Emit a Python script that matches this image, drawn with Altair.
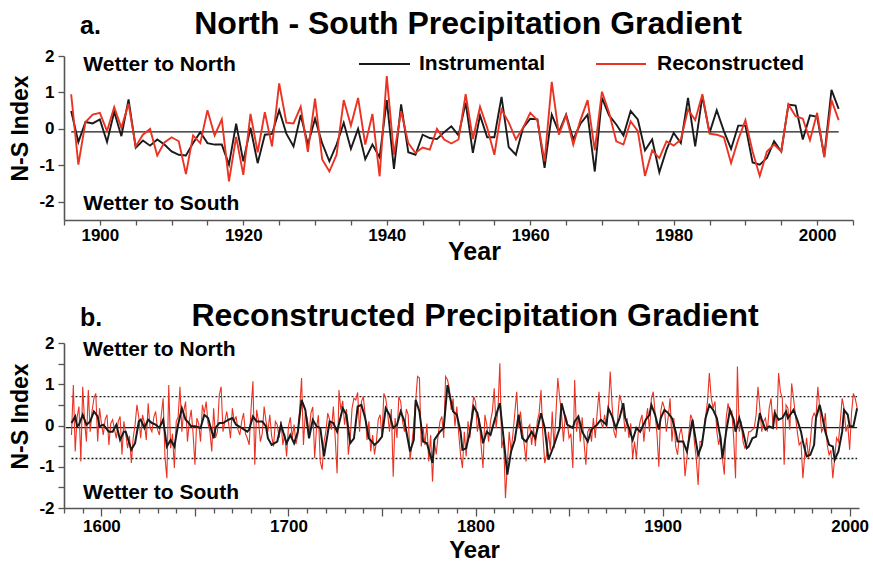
import altair as alt
import pandas as pd

# ---------------- Panel a data (1896-2003) ----------------
years_a = list(range(1896, 2004))
instrumental = [
    0.49, -0.36, 0.19, 0.15, 0.26, -0.36, 0.47, -0.20, 0.81, -0.52,   # 1896-1905
    -0.32, -0.46, -0.29, -0.43, -0.62, -0.71, -0.73, -0.39, -0.09, -0.39,  # 1906-1915
    -0.43, -0.43, -0.98, 0.14, -0.89, 0.03, -0.94, -0.16, -0.14, 0.51,  # 1916-1925
    -0.13, -0.48, 0.38, -0.43, 0.28, -0.40, -0.89, -0.43, 0.17, -0.55,  # 1926-1935
    0.00, -0.83, -0.43, -0.78, 0.79, -1.10, 0.67, -0.64, -0.71, -0.16,  # 1936-1945
    -0.25, -0.28, -0.09, 0.07, -0.18, 0.72, -0.66, 0.37, -0.23, -0.23,  # 1946-1955
    0.88, -0.50, -0.71, 0.03, 0.28, 0.26, -1.07, 0.39, -0.09, 0.39,    # 1956-1965
    -0.29, 0.14, 0.39, -1.17, 0.85, 0.37, 0.12, -0.18, 0.49, 0.26,     # 1966-1975
    -0.59, -0.29, -1.19, -0.57, -0.11, -0.39, 0.85, -0.48, 0.90, -0.11,  # 1976-1985
    0.51, -0.06, -0.55, 0.09, 0.09, -0.92, -0.98, -0.80, -0.34, -0.62,  # 1986-1995
    0.67, 0.64, -0.29, 0.37, 0.33, -0.75, 1.07, 0.55,                  # 1996-2003
]
reconstructed_a = [
    0.95, -0.98, 0.19, 0.39, 0.44, -0.06, 0.60, 0.03, 0.69, -0.48,
    -0.16, 0.00, -0.73, -0.37, -0.23, -0.34, -1.24, -0.18, -0.39, 0.51,
    -0.18, 0.26, -1.44, -0.22, -1.26, 0.41, -0.64, 0.46, -0.48, 1.25,
    0.17, 0.15, 0.61, -0.63, 0.83, -0.84, -1.17, -0.71, 0.79, 0.09,
    0.85, -0.43, 0.41, -1.30, 1.45, -0.71, 0.49, -0.39, -0.66, -0.51,
    -0.57, 0.00, -0.29, -0.40, -0.29, 0.95, -0.28, 0.61, 0.03, -0.71,
    0.53, 0.18, -0.29, 0.03, 0.44, 0.24, -0.89, 1.29, -0.16, 0.37,
    -0.43, 0.24, 0.79, -0.59, 1.02, 0.44, -0.34, -0.43, 0.21, -0.06,
    -1.29, -0.59, -0.80, -0.34, -0.46, -0.29, 0.53, 0.24, 0.95, -0.13,
    -0.16, -0.23, -0.94, -0.29, 0.24, -0.62, -1.29, -0.62, -0.43, -0.62,
    0.67, 0.35, 0.28, -0.31, 0.44, -0.78, 0.79, 0.24,
]
mean_a = -0.08

# ---------------- Panel b data ----------------
start_b = 1584
reconstructed_b = [
    -0.23, 0.98, -0.63, 0.20, 0.46, -0.87,                              # 1584-1589
    0.94, 0.10, -0.39, 0.86, -0.15, 0.35, 0.66, 0.78, -0.39, 0.42,
    0.05, -0.23, 0.15, 0.26, -0.47, 0.05, 0.14, -0.10, -0.31, 0.10,
    0.22, -0.71, 0.10, -0.20, -0.55, -0.25, -0.91, -0.30, 0.02, 0.50,
    0.20, -0.31, 0.26, 0.05, -0.35, 0.54, -0.05, -0.15, 0.20, 0.34,
    -0.10, -0.23, 0.25, 0.66, -0.79, -1.28, 0.98, -0.55, -0.20, -1.03,
    0.10, 0.20, 0.94, -0.15, 0.35, 0.58, -0.39, 0.10, 0.38, -0.20,
    -0.95, 0.18, 0.05, -0.39, 0.50, 0.30, 0.58, 0.05, -0.15, -0.63,
    0.42, -0.30, -0.15, 0.74, 0.94, -0.15, 0.10, 0.34, 0.05, -0.31,
    0.42, 0.10, 0.22, -0.10, -0.23, 0.10, 0.30, -0.20, -0.31, -0.47,
    0.40, 1.07, -0.95, 0.38, 0.10, -0.39, -0.19, 0.46, 0.10, -0.15,     # 1680s
    0.26, -0.25, -0.51, 0.10, 0.02, -0.30, 0.10, -0.47, -0.20, -0.75,
    -0.02, 0.20, -0.31, 0.02, -0.45, -0.23, 0.40, 1.15, -0.47, 0.30,
    0.18, -0.19, 0.30, 0.45, -0.79, -0.06, 0.25, -0.87, -1.07, -0.40,
    -0.15, 0.30, 0.14, -0.10, 0.46, -0.31, -1.16, 0.86, 0.38, 0.60,
    0.02, 0.40, -0.71, -0.30, 0.42, 0.66, 0.62, 0.80, -0.15, 0.58,
    0.70, 0.26, -0.35, 0.10, -0.63, -0.23, -0.70, -0.39, 0.15, 0.26,
    -0.27, 0.78, 0.66, 0.30, -0.15, 0.40, -1.24, 0.18, -0.30, 0.70,
    0.58, 0.10, -0.15, 0.40, 0.26, -0.83, -0.45, 0.02, 0.60, 1.19,
    1.15, -0.51, -0.06, -0.47, 0.05, -0.87, -0.23, -1.36, -0.39, -0.70,
    -0.23, 0.10, 0.22, -0.30, 1.19, 1.11, 0.90, 0.38, 0.66, -0.02,     # 1780s
    0.46, -0.20, -0.71, -1.03, -0.15, -0.75, 0.10, -0.30, 0.30, 0.70,
    0.58, -0.15, 0.18, -0.50, -1.03, 0.26, 0.02, -0.39, 0.10, 0.34,
    0.90, -0.06, 0.40, 1.51, -0.55, -0.30, -1.76, -0.95, -0.15, -0.63,
    -0.20, 0.30, 0.82, -0.06, 0.34, -0.10, -0.45, -0.87, -0.06, 0.02,
    -0.47, -0.06, -0.50, 0.10, 0.30, 0.86, -0.23, -0.91, -0.71, -0.15,
    -0.60, 0.34, -0.55, 0.30, 1.15, 0.66, 0.30, -0.39, 0.26, 0.10,
    -0.30, -0.20, -1.03, 1.10, -0.15, 0.26, -0.39, 0.20, -0.40, -0.95,
    -0.15, -0.06, -0.39, 0.18, -0.30, 0.30, 0.82, 0.10, -0.06, 0.26,
    -0.06, 0.40, 1.31, 0.50, -0.15, -0.30, 0.18, 0.74, 0.58, 0.30,
    -0.15, 0.18, -0.30, 0.05, -0.79, -0.39, -0.79, -0.15, 0.10, 0.26,   # 1880s
    -0.39, 0.10, 0.42, -0.15, 0.66, 0.82, 0.30, -0.20, -1.00, 0.34,
    0.58, 0.42, -0.15, 0.20, 0.66, -0.39, 0.18, -0.51, -0.71, -0.23,
    -0.06, -0.40, -1.23, -0.79, -0.23, 0.26, 0.14, -0.40, -0.79, -1.44,
    -0.39, -0.39, -0.15, 0.22, 0.58, 1.27, 0.66, 0.42, 0.58, -0.15,
    -0.47, -0.23, -0.80, -1.19, 0.18, 0.54, 0.26, 0.34, -0.30, -1.28,
    1.43, -0.15, 0.10, -0.39, -0.55, -0.47, -0.15, -0.15, -0.10, -0.06,
    0.26, 0.94, 0.42, -0.15, 0.10, 0.18, -0.15, 0.42, 0.66, 0.02,
    0.40, -0.10, 1.27, 0.82, 0.66, -0.95, 0.50, 0.42, -0.10, 1.02,
    0.66, 0.26, -0.15, -0.47, -0.40, -1.28, -0.71, -0.30, -0.79, -0.39,
    0.18, 0.30, 0.20, 0.94, 0.42, -0.15, -0.06, 0.30, -0.47, -0.71,
    -0.60, -1.28, -0.79, -0.30, -0.40, 0.10, 0.66, 0.42, -0.15, 0.02,
    -0.59, 0.30, 0.78, 0.66, 0.42,                                        # 2000-2004
]
years_b = list(range(start_b, start_b + len(reconstructed_b)))

smooth_years_b = [
    1584, 1586, 1587, 1588, 1590, 1592, 1594, 1596, 1598, 1599, 1601, 1604, 1606, 1608,
    1610, 1612, 1613, 1616, 1618, 1620, 1621, 1623, 1625, 1627, 1629, 1631, 1633, 1635,
    1637, 1639, 1641, 1643, 1645, 1646, 1648, 1650, 1653, 1655, 1657, 1660, 1661, 1663,
    1665, 1668, 1670, 1672, 1675, 1678, 1679, 1681, 1683, 1686, 1688, 1689, 1691, 1694,
    1696, 1699, 1701, 1703, 1705, 1707, 1709, 1711, 1713, 1715, 1717, 1719, 1722, 1724,
    1726, 1729, 1731, 1733, 1735, 1737, 1739, 1741, 1743, 1746, 1748, 1750, 1752, 1754,
    1756, 1758, 1760, 1762, 1765, 1767, 1768, 1770, 1772, 1774, 1777, 1778, 1781, 1783,
    1785, 1788, 1790, 1792, 1793, 1795, 1797, 1799, 1801, 1803, 1804, 1806, 1808, 1810,
    1811, 1813, 1815, 1817, 1819, 1821, 1823, 1825, 1827, 1830, 1832, 1835, 1837, 1839,
    1842, 1845, 1846, 1849, 1852, 1853, 1855, 1857, 1860, 1862, 1865, 1867, 1870, 1871,
    1873, 1875, 1877, 1879, 1880, 1882, 1884, 1886, 1888, 1891, 1893, 1894, 1896, 1898,
    1899, 1901, 1903, 1905, 1907, 1908, 1911, 1913, 1916, 1917, 1919, 1921, 1923, 1925,
    1927, 1929, 1931, 1932, 1934, 1936, 1938, 1939, 1941, 1943, 1945, 1946, 1948, 1950,
    1952, 1953, 1955, 1957, 1959, 1960, 1962, 1964, 1966, 1967, 1970, 1972, 1974, 1975,
    1977, 1979, 1981, 1982, 1984, 1985, 1987, 1989, 1991, 1992, 1994, 1996, 1997, 1999,
    2000, 2002, 2004,
]
smooth_vals_b = [
    0.06, 0.22, -0.02, 0.02, 0.26, 0.02, 0.10, 0.34, 0.22, -0.02, 0.02, -0.15, -0.15, 0.02,
    -0.35, -0.15, -0.15, -0.59, -0.43, 0.10, 0.14, -0.06, 0.14, 0.06, 0.02, -0.06, 0.14, -0.51,
    -0.35, -0.51, 0.02, 0.42, 0.14, 0.10, -0.02, -0.02, -0.06, 0.26, 0.18, -0.31, -0.06, 0.06,
    0.06, 0.14, 0.18, 0.02, -0.06, -0.15, -0.10, 0.22, 0.10, 0.10, -0.02, -0.31, -0.47, -0.39,
    0.02, -0.43, -0.23, -0.43, -0.15, 0.62, 0.38, -0.31, 0.14, -0.02, -0.06, -0.75, 0.10, 0.06,
    -0.15, 0.42, 0.26, -0.43, -0.31, 0.46, 0.50, 0.18, -0.31, -0.47, -0.39, -0.27, 0.42, 0.26,
    -0.06, 0.02, 0.34, 0.10, -0.63, -0.35, 0.62, 0.34, -0.39, -0.43, -0.91, -0.35, -0.15, -0.06,
    0.98, 0.34, 0.26, -0.15, -0.59, -0.55, -0.15, 0.46, 0.30, -0.15, -0.43, -0.15, -0.23, 0.10,
    0.26, 0.54, -0.31, -1.19, -0.63, -0.35, 0.26, -0.31, -0.39, -0.15, -0.31, 0.30, -0.06, -0.83,
    -0.47, -0.06, 0.54, 0.02, -0.06, 0.10, 0.22, -0.15, -0.39, -0.10, 0.02, 0.14, 0.02, 0.42,
    0.22, -0.06, 0.18, 0.54, 0.18, -0.06, -0.35, -0.06, -0.15, 0.14, 0.26, 0.50, 0.26, -0.10,
    0.18, 0.38, 0.30, 0.18, -0.15, -0.39, -0.39, -0.63, 0.14, -0.15, -0.71, -0.47, 0.18, 0.50,
    0.38, 0.18, -0.31, -0.79, -0.15, 0.38, 0.14, -0.15, 0.18, -0.15, -0.55, -0.51, -0.31, -0.27,
    0.30, 0.14, -0.10, -0.02, -0.06, 0.30, 0.14, 0.18, 0.34, 0.18, 0.38, 0.14, -0.15, -0.39,
    -0.75, -0.71, -0.47, 0.18, 0.50, 0.30, -0.15, -0.47, -0.51, -0.83, -0.63, -0.15, 0.38, 0.26,
    -0.02, -0.02, 0.42,
]
mean_b = -0.05
band_b = [0.70, -0.80]

# ---------------- styling ----------------
BLACK = "#1a1a1a"
RED = "#ea3323"
AX = "#555555"
FONT = "Liberation Sans"
W_A, H_A = 789, 164
W_B, H_B = 795, 165

# ---------------- panel a ----------------
df_a = pd.DataFrame({"Year": years_a, "Instrumental": instrumental,
                     "Reconstructed": reconstructed_a})

ax_a_x = alt.Axis(values=list(range(1895, 2006, 5)), format="d",
                  labelExpr="datum.value % 20 == 0 ? datum.label : ''",
                  title="Year", titleFont=FONT, titleFontSize=25, titleFontWeight="bold",
                  titleColor="black", titlePadding=-4, titleX=410,
                  labelFont=FONT, labelFontSize=17, labelFontWeight="bold", labelColor="black",
                  labelPadding=2, labelFlush=False, labelOverlap=False,
                  tickSize=5, tickWidth=1.3, tickColor=AX, domainColor=AX, domainWidth=1.6,
                  grid=False)
ax_a_y = alt.Axis(values=[-2, -1, 0, 1, 2], labelExpr="'' + datum.value",
                  title="N-S Index", titleFont=FONT, titleFontSize=23, titleFontWeight="bold",
                  titleColor="black", titlePadding=6, titleY=72,
                  labelFont=FONT, labelFontSize=17, labelFontWeight="bold", labelColor="black",
                  labelPadding=4, tickSize=6, tickWidth=1.3, tickColor=AX,
                  domainColor=AX, domainWidth=1.6, grid=False)

ysc_a = alt.Scale(domain=[-2.5, 2], nice=False, zero=False)
xa = alt.X("Year:Q", scale=alt.Scale(domain=[1895, 2005], nice=False, zero=False), axis=ax_a_x)
ya = alt.Y("Index:Q", scale=ysc_a, axis=ax_a_y)

mean_a_df = pd.DataFrame({"Year": [years_a[0]], "Year2": [years_a[-1]], "Index": [mean_a]})
zero_a = alt.Chart(mean_a_df).mark_rule(color=BLACK, strokeWidth=1.2).encode(
    x=xa, x2="Year2:Q", y=ya)
inst_a = alt.Chart(df_a).mark_line(color=BLACK, strokeWidth=1.9).encode(
    x=xa, y=alt.Y("Instrumental:Q", scale=ysc_a, axis=ax_a_y))
rec_a = alt.Chart(df_a).mark_line(color=RED, strokeWidth=1.9).encode(
    x=xa, y=alt.Y("Reconstructed:Q", scale=ysc_a, axis=ax_a_y))

notes_a = pd.DataFrame({"Year": [1897.7, 1897.7], "Index": [1.76, -2.07],
                        "Label": ["Wetter to North", "Wetter to South"]})
notes_a_layer = alt.Chart(notes_a).mark_text(align="left", baseline="middle", font=FONT,
                                             fontSize=21, fontWeight="bold", color="black").encode(
    x=xa, y=ya, text="Label:N")

one = pd.DataFrame({"k": [0]})
leg_line_i = alt.Chart(one).mark_rule(color=BLACK, strokeWidth=2).encode(
    x=alt.value(295), x2=alt.value(346), y=alt.value(8))
leg_line_r = alt.Chart(one).mark_rule(color=RED, strokeWidth=2).encode(
    x=alt.value(532), x2=alt.value(582), y=alt.value(8))
leg_txt_i = alt.Chart(one).mark_text(align="left", baseline="middle", font=FONT, fontSize=21,
                                     fontWeight="bold", color="black", text="Instrumental").encode(
    x=alt.value(355), y=alt.value(8))
leg_txt_r = alt.Chart(one).mark_text(align="left", baseline="middle", font=FONT, fontSize=21,
                                     fontWeight="bold", color="black", text="Reconstructed").encode(
    x=alt.value(593), y=alt.value(8))
title_a = alt.Chart(one).mark_text(align="center", baseline="middle", font=FONT, fontSize=32,
                                   fontWeight="bold", color="black",
                                   text="North - South Precipitation Gradient").encode(
    x=alt.value(404), y=alt.value(-32))
lab_a = alt.Chart(one).mark_text(align="left", baseline="middle", font=FONT, fontSize=25,
                                 fontWeight="bold", color="black", text="a.").encode(
    x=alt.value(16), y=alt.value(-30))

panel_a = alt.layer(zero_a, inst_a, rec_a, notes_a_layer, leg_line_i, leg_line_r,
                    leg_txt_i, leg_txt_r, title_a, lab_a).properties(width=W_A, height=H_A)

# ---------------- panel b ----------------
df_b = pd.DataFrame({"Year": years_b, "Index": reconstructed_b})
df_bs = pd.DataFrame({"Year": smooth_years_b, "Index": smooth_vals_b})

ax_b_x = alt.Axis(values=list(range(1580, 2006, 10)), format="d",
                  labelExpr="datum.value % 100 == 0 ? datum.label : ''",
                  title="Year", titleFont=FONT, titleFontSize=24, titleFontWeight="bold",
                  titleColor="black", titlePadding=4, titleX=410,
                  labelFont=FONT, labelFontSize=17, labelFontWeight="bold", labelColor="black",
                  labelPadding=2, labelFlush=False, labelOverlap=False,
                  tickSize={"condition": {"test": "datum.value % 50 == 0", "value": 8}, "value": 5},
                  tickWidth=1.3, tickColor=AX, domainColor=AX, domainWidth=1.6, grid=False)
ax_b_y = alt.Axis(values=[-2, -1.5, -1, -0.5, 0, 0.5, 1, 1.5, 2],
                  labelExpr="datum.value % 1 == 0 ? '' + datum.value : ''",
                  title="N-S Index", titleFont=FONT, titleFontSize=23, titleFontWeight="bold",
                  titleColor="black", titlePadding=6, titleY=73,
                  labelFont=FONT, labelFontSize=17, labelFontWeight="bold", labelColor="black",
                  labelPadding=4, tickSize=6, tickWidth=1.3, tickColor=AX,
                  domainColor=AX, domainWidth=1.6, grid=False)

xb = alt.X("Year:Q", scale=alt.Scale(domain=[1580, 2005], nice=False, zero=False), axis=ax_b_x)
yb = alt.Y("Index:Q", scale=alt.Scale(domain=[-2, 2], nice=False, zero=False), axis=ax_b_y)

ref_b = pd.DataFrame({"Year": [1581, years_b[0], years_b[0]],
                      "Year2": [years_b[-1], years_b[-1], years_b[-1]],
                      "Index": [mean_b, band_b[0], band_b[1]],
                      "kind": ["mean", "band", "band"]})
zero_b = alt.Chart(ref_b).transform_filter("datum.kind == 'mean'").mark_rule(
    color=BLACK, strokeWidth=1.3).encode(x=xb, x2="Year2:Q", y=yb)
band_layer = alt.Chart(ref_b).transform_filter("datum.kind == 'band'").mark_rule(
    color=BLACK, strokeWidth=1.3, strokeDash=[2, 2]).encode(x=xb, x2="Year2:Q", y=yb)
red_b = alt.Chart(df_b).mark_line(color=RED, strokeWidth=1.1).encode(x=xb, y=yb)
blk_b = alt.Chart(df_bs).mark_line(color=BLACK, strokeWidth=2).encode(x=xb, y=yb)

notes_b = pd.DataFrame({"Year": [1590.2, 1590.2], "Index": [1.83, -1.64],
                        "Label": ["Wetter to North", "Wetter to South"]})
notes_b_layer = alt.Chart(notes_b).mark_text(align="left", baseline="middle", font=FONT,
                                             fontSize=21, fontWeight="bold", color="black").encode(
    x=xb, y=yb, text="Label:N")
title_b = alt.Chart(one).mark_text(align="center", baseline="middle", font=FONT, fontSize=32,
                                   fontWeight="bold", color="black",
                                   text="Reconstructed Precipitation Gradient").encode(
    x=alt.value(411), y=alt.value(-27))
lab_b = alt.Chart(one).mark_text(align="left", baseline="middle", font=FONT, fontSize=25,
                                 fontWeight="bold", color="black", text="b.").encode(
    x=alt.value(16), y=alt.value(-25))

panel_b = alt.layer(zero_b, band_layer, red_b, blk_b, notes_b_layer, title_b, lab_b).properties(
    width=W_B, height=H_B)

chart = alt.vconcat(panel_a, panel_b, spacing=36).properties(
    padding={"left": 9, "top": 8, "right": 0, "bottom": 0},
    background="white",
).configure_view(stroke=None)

chart.save("out.html", embed_options={"renderer": "svg", "actions": False})
